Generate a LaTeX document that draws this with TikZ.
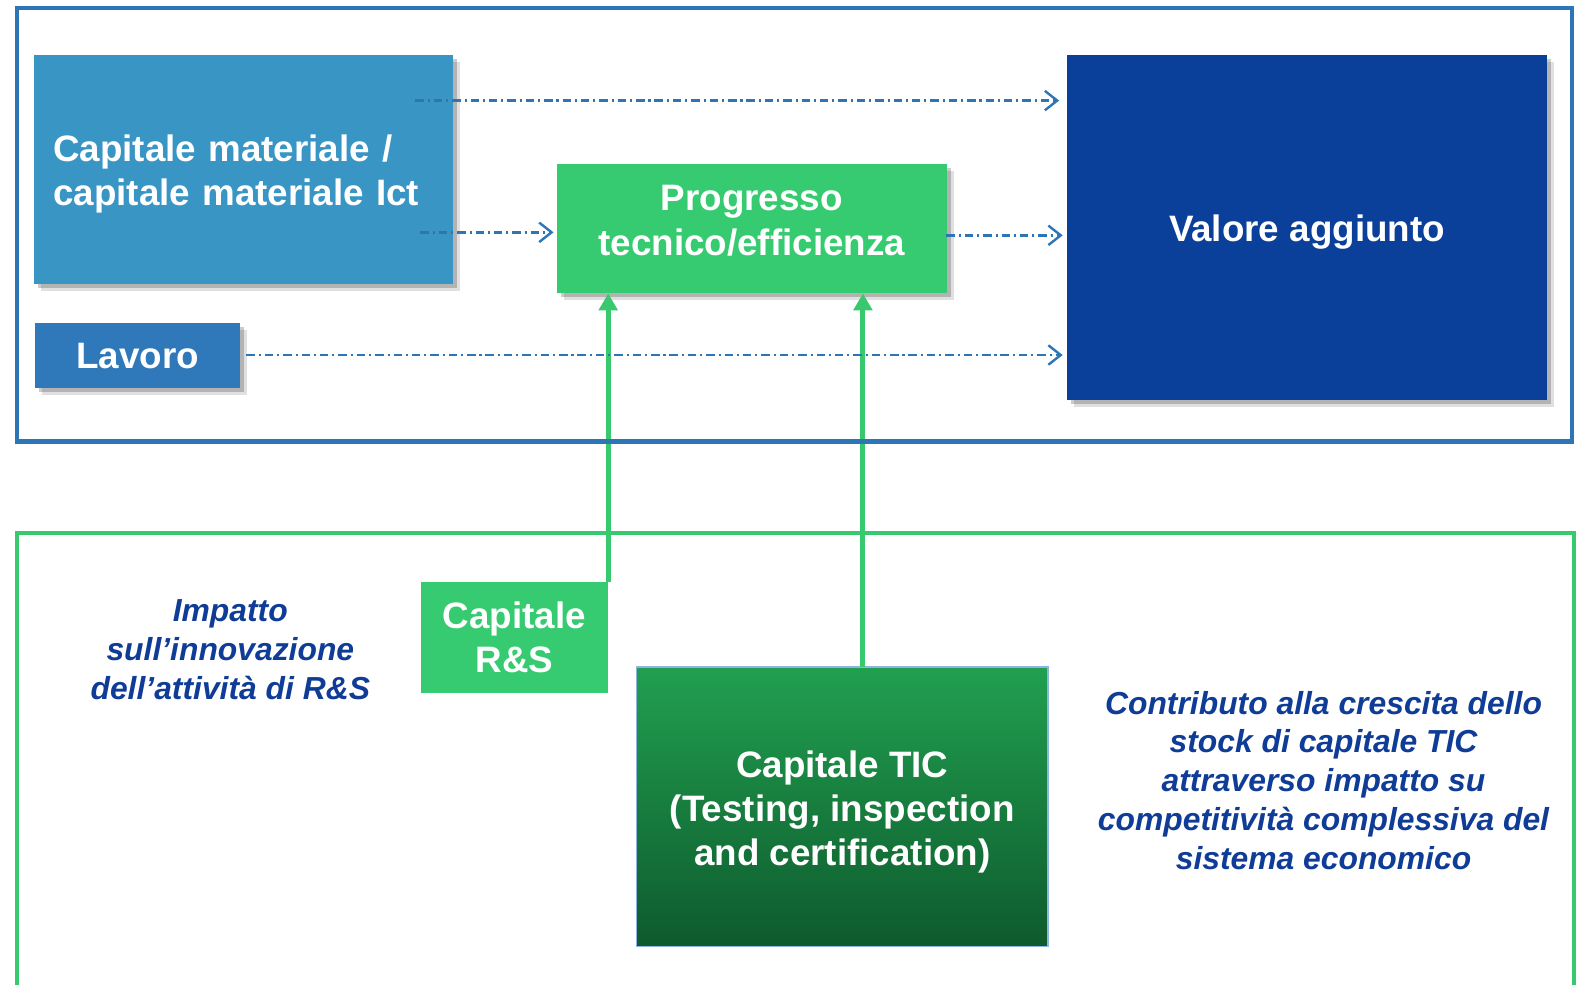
\documentclass[tikz,border=0pt]{standalone}
\usepackage{fontspec}
\setmainfont{Liberation Sans}
\usetikzlibrary{arrows.meta,shadows}
\definecolor{frameblue}{RGB}{46,117,182}
\definecolor{capblue}{RGB}{56,149,196}
\definecolor{lavblue}{RGB}{47,120,186}
\definecolor{valblue}{RGB}{11,64,154}
\definecolor{progreen}{RGB}{55,203,113}
\definecolor{framegreen}{RGB}{56,201,111}
\definecolor{tictop}{RGB}{33,160,80}
\definecolor{ticbot}{RGB}{14,90,45}
\definecolor{ticedge}{RGB}{143,180,227}
\definecolor{notecol}{RGB}{15,60,150}
% text block moved up/down inside its box
\newcommand\liftext[3]{\raisebox{#1}[\height][\depth]{\begin{tabular}{@{}#2@{}}#3\end{tabular}}}
\begin{document}
\begin{tikzpicture}[x=0.01cm,y=-0.01cm,
    box/.style={inner sep=0pt,text=white,align=center,
                font=\bfseries\fontsize{10.4}{12.5}\selectfont},
    shad/.style={drop shadow={shadow xshift=0.07cm,shadow yshift=-0.07cm,fill=black,opacity=0.12},
                 drop shadow={shadow xshift=0.04cm,shadow yshift=-0.04cm,fill=black,opacity=0.2}},
    flow/.style={frameblue,line width=0.68pt,dash pattern=on 2.4pt off 1.1pt on 0.6pt off 1.1pt,
                 -{Straight Barb[length=3.5pt,width=5.5pt]}},
    up/.style={framegreen,line width=1.4pt,-{Triangle[length=4.8pt,width=5.2pt]}},
    note/.style={text=notecol,align=center,font=\bfseries\itshape\fontsize{9}{11}\selectfont}]
  \useasboundingbox (0,0) rectangle (1568,979);
  % upper block
  \node[box,shad,fill=capblue,minimum width=4.16cm,minimum height=2.27cm,
        text width=3.78cm,align=left] (cap) at (242,168.5)
        {\liftext{-1.4pt}{l}{Capitale materiale /\\capitale materiale Ict}};
  \node[box,shad,fill=lavblue,minimum width=2.04cm,minimum height=0.65cm] (lav) at (137,353.5) {Lavoro};
  \node[box,shad,fill=progreen,minimum width=3.87cm,minimum height=1.28cm] (prog) at (747.5,227)
        {\liftext{1.2pt}{c}{Progresso\\tecnico/efficienza}};
  \node[box,shad,fill=valblue,minimum width=4.77cm,minimum height=3.43cm] (val) at (1299.5,226.5)
        {\liftext{-1.4pt}{c}{Valore aggiunto}};
  % lower block
  \node[box,fill=progreen,minimum width=1.85cm,minimum height=1.10cm] (rs) at (511.5,634) {Capitale\\R\&S};
  \node[box,draw=ticedge,line width=0.5pt,top color=tictop,bottom color=ticbot,
        minimum width=4.09cm,minimum height=2.78cm] (tic) at (837.5,802)
        {\liftext{-1.7pt}{c}{Capitale TIC\\(Testing, inspection\\and certification)}};
  \node[note] (imp) at (229,646) {Impatto\\sull’innovazione\\dell’attività di R\&S};
  \node[note] (contr) at (1316,776) {Contributo alla crescita dello\\stock di capitale TIC\\attraverso impatto su\\competitività complessiva del\\sistema economico};
  % green links
  \coordinate (t1) at (858,663);
  \draw[up] (rs.north east) -- (rs.north east |- prog.south);
  \draw[up] (t1) -- (t1 |- prog.south);
  % frames
  \draw[frameblue,line width=1.15pt] (17,8) rectangle (1563,439);
  \draw[framegreen,line width=1.15pt] (17,979) |- (1565,530) -- (1565,979);
  % dash-dot links
  \coordinate (m1) at (413,100);
  \coordinate (m2) at (418,231);
  \coordinate (p3) at (941,234);
  \coordinate (l4) at (245,353);
  \draw[flow,shorten >=2pt] (m1) -- (m1 -| val.west);
  \draw[flow,shorten >=0.8pt] (m2) -- (m2 -| prog.west);
  \draw[flow,shorten >=1pt] (p3) -- (p3 -| val.west);
  \draw[flow,shorten >=1pt] (l4) -- (l4 -| val.west);
\end{tikzpicture}
\end{document}
